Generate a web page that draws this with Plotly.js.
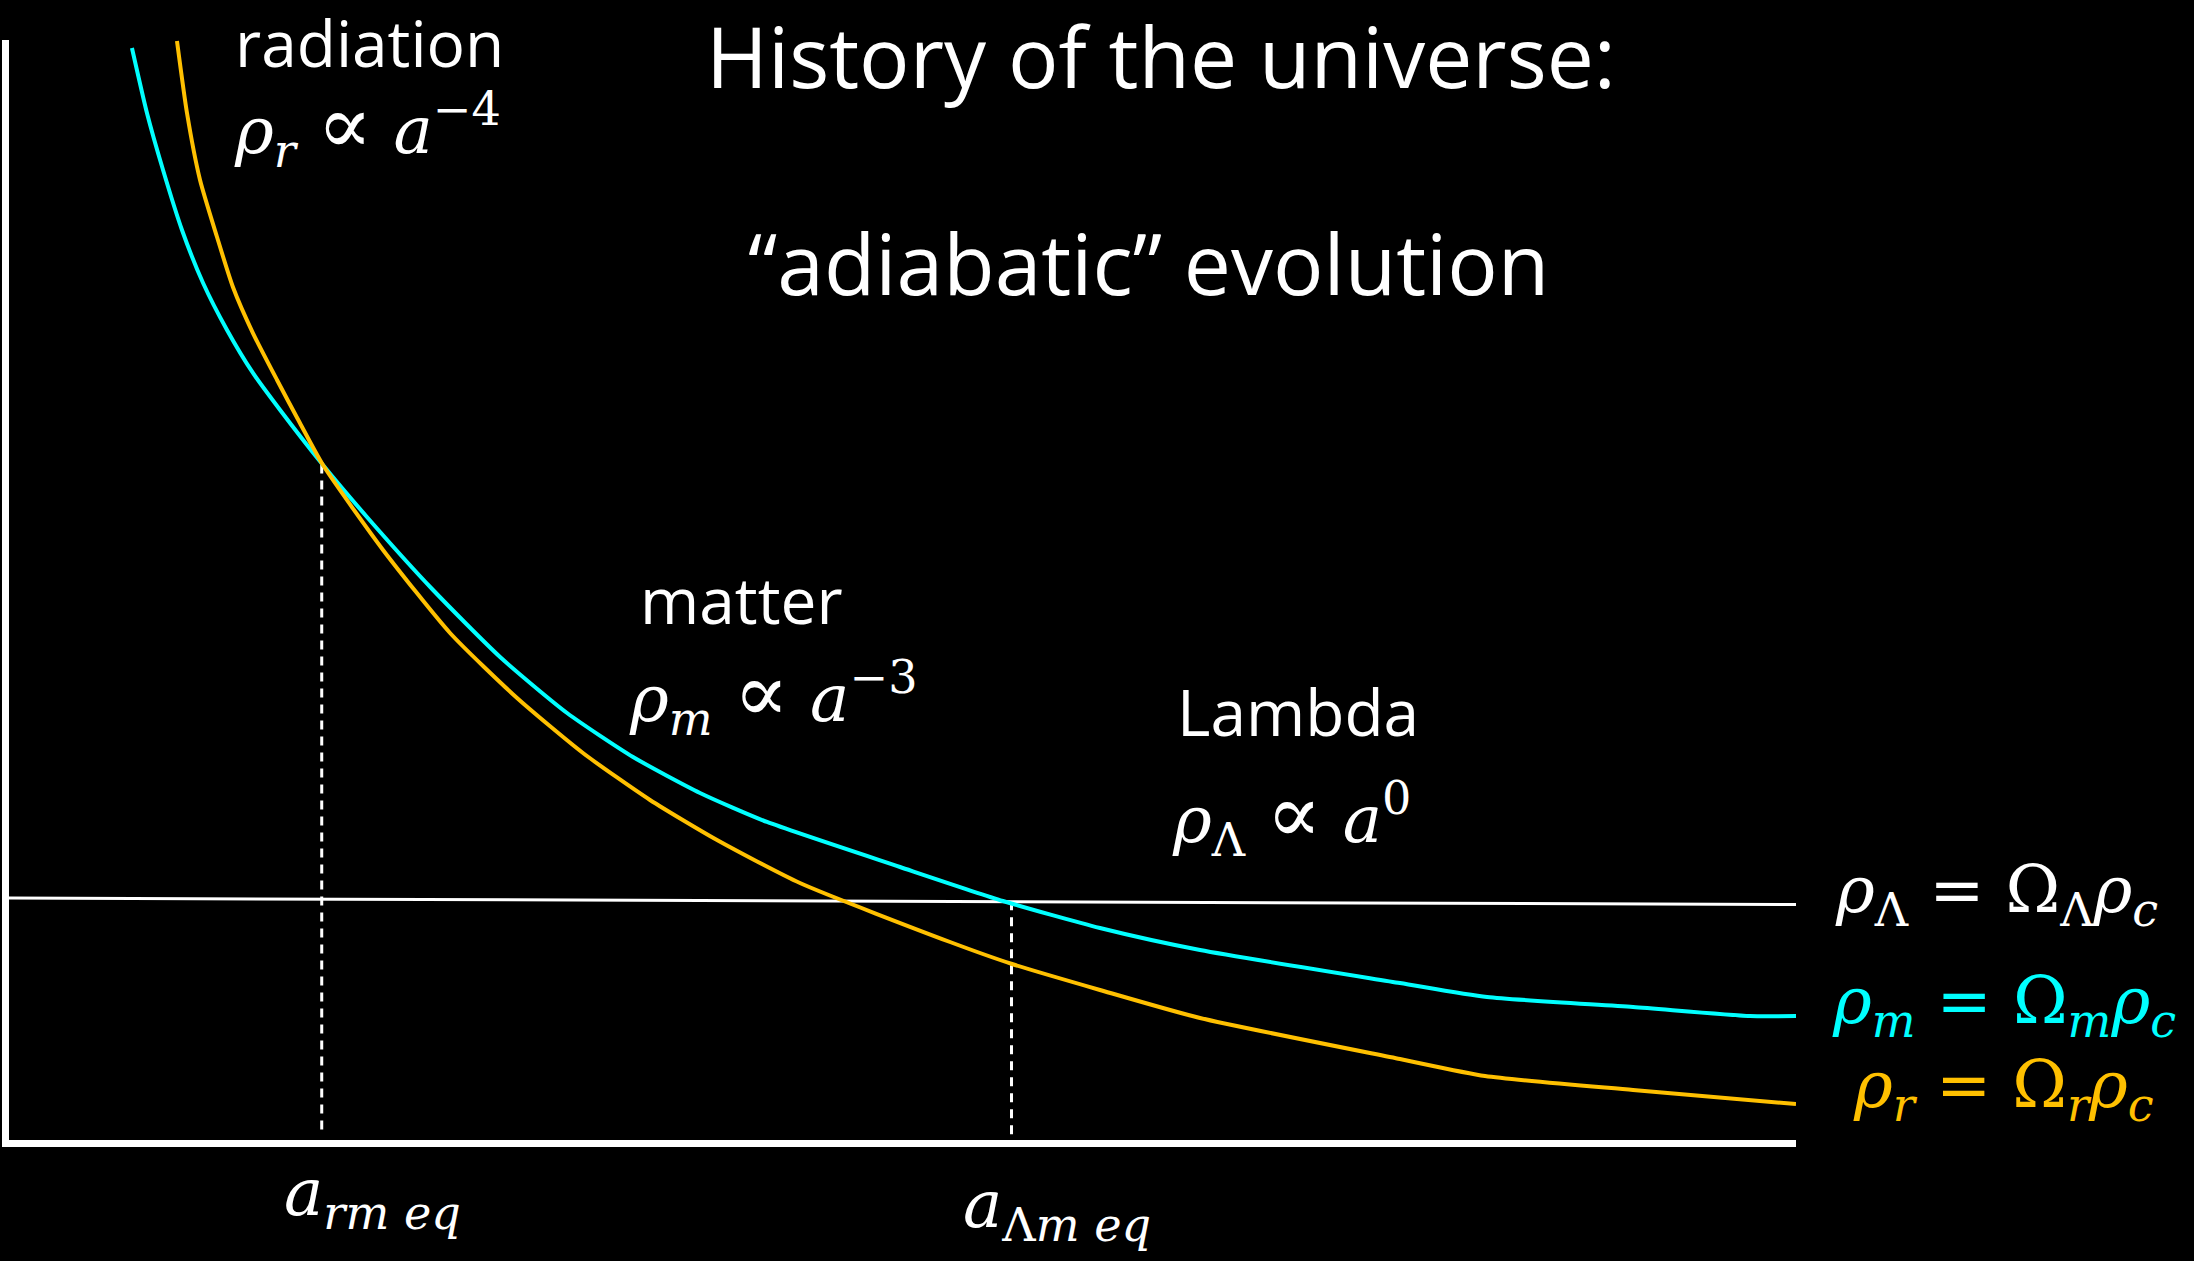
<!DOCTYPE html>
<html>
<head>
<meta charset="utf-8">
<script src="https://cdn.plot.ly/plotly-3.0.1.min.js"></script>
<style>
  html, body { margin: 0; padding: 0; background: #000; overflow: hidden; }
  #chart { width: 2194px; height: 1261px; }
</style>
</head>
<body>
<div id="chart"></div>
<script>
// Scale factor a and energy density rho, both in arbitrary units
const aMatter = [6.88, 7.72, 8.62, 9.68, 10.86, 12.20, 13.65, 15.17, 17.57, 20.03, 23.73, 27.48, 31.23, 34.92, 38.67, 42.42, 49.86, 55.62, 61.05, 66.65, 77.84, 82.71, 90.88, 97.43, 100];
const rhoMatter = [99.27, 93.36, 88.18, 82.73, 77.91, 73.64, 69.73, 66.36, 61.36, 56.64, 50.00, 43.91, 38.82, 34.82, 31.55, 28.91, 24.82, 21.73, 19.27, 17.27, 14.27, 13.00, 12.09, 11.27, 11.27];

const aRadiation = [9.40, 9.96, 10.69, 11.64, 12.53, 13.65, 15.00, 16.28, 17.57, 20.93, 24.68, 28.43, 32.12, 35.87, 39.62, 44.26, 52.66, 56.13, 61.05, 66.65, 77.84, 82.60, 90.88, 100];
const rhoRadiation = [99.91, 93.36, 87.27, 82.09, 77.55, 73.36, 69.09, 65.18, 61.36, 53.64, 46.09, 40.18, 35.18, 30.91, 27.27, 23.36, 18.00, 16.00, 13.64, 11.09, 7.36, 5.82, 4.55, 3.27];

const aLambda = [0, 100];
const rhoLambda = [22.0, 21.4];

// Equality epochs: radiation-matter and Lambda-matter
const aEquality = [17.5, 56.1];
const rhoEquality = [61.4, 21.7];

const CYAN = '#00FFFF';
const GOLD = '#FFC000';
const WHITE = '#FFFFFF';

// plot frame in page pixels
const W = 2194, H = 1261;
const M = { l: 9, r: 398, t: 40, b: 121 };
const PW = W - M.l - M.r, PH = H - M.t - M.b;
const px = x => (x - M.l) / PW;
const py = y => (H - M.b - y) / PH;

const textFont = 'Open Sans, sans-serif';
const mathFont = 'DejaVu Serif, serif';

const dashLine = { color: WHITE, width: 3, dash: '9px,7px' };

const traces = [
  { x: aLambda, y: rhoLambda, mode: 'lines', line: { color: WHITE, width: 3 }, hoverinfo: 'skip' },
  { x: [aEquality[0], aEquality[0]], y: [rhoEquality[0], 0.7], mode: 'lines', line: dashLine, hoverinfo: 'skip' },
  { x: [aEquality[1], aEquality[1]], y: [rhoEquality[1], 0.5], mode: 'lines', line: dashLine, hoverinfo: 'skip' },
  {
    x: aMatter, y: rhoMatter, mode: 'lines', name: 'matter',
    line: { color: CYAN, width: 4, shape: 'spline', smoothing: 0.6 }
  },
  {
    x: aRadiation, y: rhoRadiation, mode: 'lines', name: 'radiation',
    line: { color: GOLD, width: 4, shape: 'spline', smoothing: 0.6 }
  }
];

function note(text, x, y, opts) {
  return Object.assign({
    text: text, xref: 'paper', yref: 'paper', x: px(x), y: py(y),
    xanchor: 'left', yanchor: 'middle', showarrow: false,
    font: { family: textFont, size: 64, color: WHITE }
  }, opts || {});
}

const mathSize = 66;
const mathWhite = { family: mathFont, size: mathSize, color: WHITE };
const titleFont = { family: textFont, size: 84, color: WHITE };
// proportional-to sign, drawn a little larger than the letters around it
const PROP = '<span style="font-size:82px">\u221D</span>';

const annotations = [
  note('History of the universe:', 1161, 56, { xanchor: 'center', font: titleFont }),
  note('\u201Cadiabatic\u201D evolution', 1148, 262, { xanchor: 'center', font: titleFont }),
  note('radiation', 233, 43),
  note('<i>\u03C1</i><sub><i>r</i></sub> ' + PROP + ' <i>a</i><sup>\u22124</sup>', 232, 127, { font: mathWhite }),
  note('matter', 638, 599),
  note('<i>\u03C1</i><sub><i>m</i></sub> ' + PROP + ' <i>a</i><sup>\u22123</sup>', 627, 695, { font: mathWhite }),
  note('Lambda', 1175, 712),
  note('<i>\u03C1</i><sub>\u039B</sub> ' + PROP + ' <i>a</i><sup>0</sup>', 1170, 817, { font: mathWhite }),
  note('<i>\u03C1</i><sub>\u039B</sub> = \u03A9<sub>\u039B</sub><i>\u03C1</i><sub><i>c</i></sub>', 1833, 894, { font: mathWhite }),
  note('<i>\u03C1</i><sub><i>m</i></sub> = \u03A9<sub><i>m</i></sub><i>\u03C1</i><sub><i>c</i></sub>', 1830, 1005, { font: { family: mathFont, size: mathSize, color: CYAN } }),
  note('<i>\u03C1</i><sub><i>r</i></sub> = \u03A9<sub><i>r</i></sub><i>\u03C1</i><sub><i>c</i></sub>', 1851, 1089, { font: { family: mathFont, size: mathSize, color: GOLD } }),
  note('<i>a</i><sub><i>rm eq</i></sub>', 282, 1197, { font: mathWhite }),
  note('<i>a</i><sub>\u039B<i>m eq</i></sub>', 961, 1209, { font: mathWhite })
];

const layout = {
  width: W, height: H,
  margin: M,
  paper_bgcolor: '#000', plot_bgcolor: '#000',
  showlegend: false,
  xaxis: {
    range: [0, 100], showgrid: false, zeroline: false, showticklabels: false, ticks: '',
    showline: true, linecolor: WHITE, linewidth: 7
  },
  yaxis: {
    range: [0, 100], showgrid: false, zeroline: false, showticklabels: false, ticks: '',
    showline: true, linecolor: WHITE, linewidth: 7
  },
  annotations: annotations
};

Plotly.newPlot('chart', traces, layout, { displayModeBar: false, staticPlot: true });
</script>
</body>
</html>
